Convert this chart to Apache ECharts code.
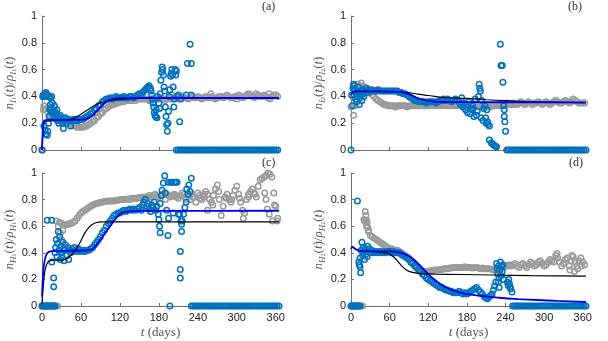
<!DOCTYPE html>
<html>
<head>
<meta charset="utf-8">
<script src="https://cdn.jsdelivr.net/npm/echarts@6/dist/echarts.min.js"></script>
<style>
html, body { margin: 0; background: #fff; }
#chart { width: 608px; height: 341px; }
</style>
</head>
<body>
<div id="chart"></div>
<script>
// sampling days of the grey (observed) series
const days = [
  0,3,6,9,12,15,18,21,24,27,30,33,36,39,42,45,48,51,54,57,
  60,63,66,69,72,75,78,81,84,87,90,93,96,99,102,105,108,111,114,117,
  120,123,126,129,132,135,138,141,144,147,150,153,156,159,162,165,168,171,174,177,
  180,183,186,189,192,195,198,201,204,207,210,213,216,219,222,225,228,231,234,237,
  240,243,246,249,252,255,258,261,264,267,270,273,276,279,282,285,288,291,294,297,
  300,303,306,309,312,315,318,321,324,327,330,333,336,339,342,345,348,351,354,357,
  360,363
]
const xTicks = [0, 60, 120, 180, 240, 300, 360]
const yTicks = [0, 0.2, 0.4, 0.6, 0.8, 1]

// ---- panel (a) ----
const aGray = [
  0,0.33,0.31,0.28,0.26,0.25,0.24,0.23,0.22,0.22,0.21,0.21,0.2,0.21,0.2,0.19,0.19,0.18,0.17,0.17,
  0.17,0.17,0.18,0.18,0.19,0.2,0.21,0.22,0.24,0.25,0.27,0.28,0.3,0.31,0.32,0.33,0.34,0.34,0.35,0.35,
  0.36,0.36,0.36,0.37,0.37,0.37,0.37,0.38,0.37,0.38,0.38,0.38,0.38,0.38,0.38,0.37,0.37,0.38,0.38,0.38,
  0.38,0.39,0.38,0.37,0.38,0.39,0.38,0.38,0.39,0.39,0.38,0.39,0.4,0.39,0.39,0.38,0.39,0.4,0.39,0.39,
  0.4,0.39,0.38,0.39,0.4,0.39,0.39,0.4,0.39,0.38,0.39,0.4,0.4,0.39,0.4,0.41,0.4,0.39,0.39,0.4,
  0.4,0.41,0.4,0.39,0.4,0.41,0.42,0.41,0.4,0.39,0.4,0.41,0.4,0.4,0.41,0.4,0.39,0.38,0.4,0.41,
  0.41,0.4
]
const aGrayExtra = [[1, 0], [2, 0.3], [200, 0.41], [260, 0.42], [300, 0.38], [330, 0.42], [350, 0.42]]
const aBlue = [
  [0,0],[1,0.4],[2,0.41],[3,0.4],[4,0.42],[6,0.43],[7,0.4],[9,0.41],[11,0.4],[13,0.39],[15,0.4],
  [3,0.18],[5,0.15],[6,0.12],[8,0.11],[9,0.14],[10,0.2],[11,0.25],[12,0.3],[13,0.34],[14,0.31],[15,0.28],
  [16,0.35],[17,0.3],[18,0.26],[19,0.33],[20,0.29],[21,0.24],[22,0.27],[23,0.3],[24,0.22],[25,0.25],
  [26,0.2],[27,0.23],[28,0.26],[30,0.22],[31,0.24],[32,0.2],[33,0.16],[35,0.22],[36,0.24],[38,0.2],
  [40,0.23],[42,0.22],[44,0.18],[46,0.22],[48,0.23],[50,0.22],[52,0.23],[54,0.22],[56,0.22],[58,0.23],
  [60,0.23],[63,0.23],[66,0.24],[69,0.25],[72,0.26],[75,0.27],[78,0.28],[81,0.3],[84,0.31],[87,0.33],
  [90,0.34],[93,0.36],[96,0.37],[99,0.38],[102,0.38],[105,0.39],[108,0.38],[111,0.39],[114,0.4],[117,0.39],
  [120,0.39],[123,0.39],[126,0.4],[129,0.39],[132,0.39],[135,0.4],[138,0.4],[141,0.39],[144,0.4],[147,0.41],
  [150,0.42],[153,0.41],[155,0.43],[157,0.44],[159,0.45],[161,0.46],[163,0.47],[165,0.48],[167,0.46],[168,0.44],
  [169,0.41],[170,0.38],[171,0.35],[172,0.32],[173,0.28],[174,0.26],[175,0.25],[176,0.3],[177,0.24],[178,0.4],
  [180,0.35],[181,0.31],[182,0.42],[183,0.52],[184,0.58],[185,0.62],[186,0.6],[187,0.56],[188,0.47],[189,0.44],
  [190,0.32],[191,0.25],[192,0.19],[193,0.14],[194,0.2],[195,0.29],[196,0.4],[197,0.45],[198,0.55],[199,0.57],
  [200,0.6],[201,0.56],[202,0.47],[203,0.32],[204,0.38],[205,0.6],[206,0.56],[207,0.59],[208,0.4],[210,0.41],
  [212,0.21],[214,0.38],[222,0.41],[224,0.645],[228,0.79],[230,0.645],[230,0.41]
]
const aBlueZeroDays = [
  207,210,213,216,219,222,225,228,231,234,237,240,243,246,249,252,255,258,261,264,267,270,273,276,279,
  282,285,288,291,294,297,300,303,306,309,312,315,318,321,324,327,330,333,336,339,342,345,348,351,354,
  357,360,363
]
const aModel = [
  [0,0],[1,0.1],[2,0.17],[3,0.2],[5,0.215],[20,0.22],[40,0.225],[48,0.235],[56,0.255],[64,0.28],
  [72,0.305],[80,0.33],[88,0.348],[96,0.36],[104,0.368],[112,0.374],[120,0.378],[135,0.383],[150,0.386],
  [180,0.388],[365,0.39]
]
const aFit = [
  [0,0],[1,0.12],[2,0.19],[3,0.215],[5,0.222],[20,0.224],[40,0.225],[60,0.226],[66,0.23],[72,0.24],
  [78,0.26],[84,0.29],[90,0.32],[96,0.35],[102,0.37],[108,0.38],[114,0.385],[120,0.387],[140,0.388],[365,0.388]
]

// ---- panel (b) ----
const bGray = [
  0.32,0.4,0.44,0.46,0.47,0.48,0.47,0.47,0.46,0.45,0.43,0.41,0.4,0.38,0.37,0.36,0.35,0.34,0.34,0.33,
  0.33,0.33,0.33,0.32,0.33,0.33,0.33,0.33,0.33,0.32,0.33,0.33,0.33,0.33,0.33,0.33,0.33,0.33,0.33,0.33,
  0.33,0.33,0.34,0.33,0.33,0.33,0.34,0.33,0.33,0.34,0.33,0.33,0.34,0.33,0.33,0.33,0.34,0.33,0.33,0.34,
  0.33,0.33,0.33,0.34,0.33,0.33,0.33,0.32,0.33,0.33,0.33,0.33,0.32,0.33,0.33,0.33,0.34,0.33,0.34,0.34,
  0.34,0.35,0.34,0.34,0.35,0.34,0.34,0.35,0.36,0.35,0.34,0.35,0.36,0.35,0.34,0.35,0.35,0.36,0.35,0.34,
  0.35,0.36,0.35,0.34,0.35,0.36,0.37,0.36,0.35,0.35,0.36,0.37,0.36,0.35,0.36,0.38,0.37,0.36,0.35,0.35,
  0.35,0.35
]
const bGrayExtra = [[4, 0.26], [6, 0.33], [10, 0.49], [16, 0.5]]
const bBlue = [
  [0,0],[1,0.41],[2,0.33],[3,0.46],[4,0.49],[5,0.48],[6,0.45],[7,0.38],[8,0.42],[9,0.36],[10,0.4],
  [11,0.47],[12,0.43],[13,0.34],[14,0.39],[15,0.44],[16,0.41],[17,0.37],[18,0.45],[19,0.42],[20,0.4],
  [22,0.44],[24,0.46],[26,0.43],[28,0.45],[30,0.44],[33,0.45],[36,0.44],[39,0.44],[42,0.45],[45,0.44],
  [48,0.44],[51,0.44],[54,0.44],[57,0.44],[60,0.44],[63,0.44],[66,0.44],[69,0.44],[72,0.44],[75,0.43],
  [78,0.43],[81,0.42],[84,0.42],[87,0.41],[90,0.4],[93,0.39],[96,0.38],[99,0.37],[102,0.37],[105,0.36],
  [108,0.36],[111,0.36],[114,0.36],[117,0.35],[120,0.36],[123,0.36],[126,0.36],[129,0.36],[132,0.35],[135,0.36],
  [138,0.37],[141,0.37],[144,0.38],[147,0.37],[150,0.38],[153,0.37],[156,0.36],[159,0.37],[162,0.38],[165,0.37],
  [168,0.36],[170,0.34],[172,0.39],[174,0.32],[176,0.35],[178,0.3],[180,0.34],[181,0.28],[183,0.36],[185,0.27],
  [186,0.31],[188,0.3],[189,0.33],[190,0.31],[191,0.25],[193,0.38],[195,0.26],[196,0.29],[198,0.4],[199,0.49],
  [200,0.46],[201,0.44],[202,0.24],[203,0.37],[205,0.22],[206,0.31],[208,0.33],[209,0.24],[210,0.2],[211,0.3],
  [212,0.21],[213,0.19],[215,0.18],[215,0.075],[218,0.055],[220,0.045],[222,0.035],[224,0.03],[226,0.025],
  [232,0.79],[233,0.63],[235,0.63],[236,0.505],[237,0.33],[238,0.3],[238,0.25],[239,0.21],[240,0.14]
]
const bBlueZeroDays = [
  242,245,248,251,254,257,260,263,266,269,272,275,278,281,284,287,290,293,296,299,302,305,308,311,
  314,317,320,323,326,329,332,335,338,341,344,347,350,353,356,359,362,365
]
const bModel = [
  [0,0.41],[3,0.43],[8,0.437],[40,0.437],[70,0.435],[85,0.43],[100,0.42],[115,0.41],[130,0.4],
  [150,0.39],[180,0.385],[210,0.375],[240,0.368],[270,0.362],[300,0.358],[330,0.356],[365,0.354]
]
const bFit = [
  [0,0.41],[3,0.43],[8,0.437],[40,0.437],[70,0.436],[80,0.43],[90,0.415],[100,0.395],[110,0.377],
  [120,0.366],[135,0.36],[160,0.358],[200,0.357],[260,0.356],[365,0.353]
]

// ---- panel (c) ----
const cGray = [
  0,0,0,0,0,0,0,0,0,0.63,0.62,0.61,0.61,0.61,0.62,0.62,0.63,0.64,0.66,0.68,
  0.7,0.71,0.72,0.73,0.74,0.75,0.76,0.765,0.77,0.775,0.78,0.78,0.785,0.785,0.79,0.79,0.79,0.79,0.795,0.795,
  0.8,0.8,0.8,0.8,0.805,0.8,0.81,0.81,0.81,0.81,0.815,0.81,0.82,0.82,0.82,0.83,0.82,0.83,0.84,0.83,
  0.82,0.83,0.84,0.85,0.84,0.83,0.82,0.83,0.84,0.82,0.81,0.83,0.85,0.84,0.8,0.84,0.8,0.84,0.82,0.78,
  0.85,0.83,0.8,0.82,0.86,0.84,0.8,0.78,0.83,0.88,0.91,0.8,0.68,0.75,0.82,0.84,0.8,0.78,0.83,0.87,
  0.9,0.84,0.78,0.72,0.7,0.8,0.84,0.86,0.88,0.85,0.82,0.9,0.95,0.96,0.97,0.98,1.0,0.99,0.97,0.85,
  0.75,0.66
]
const cGrayExtra = [
  [22,0.64],[25,0.6],[28,0.55],[30,0.5],[32,0.57],[190,0.8],[205,0.83],[220,0.82],[232,0.82],
  [244,0.81],[250,0.84],[255,0.72],[263,0.76],[272,0.86],[284,0.81],[292,0.8],[304,0.81],[310,0.66],
  [318,0.82],[328,0.84],[343,0.85],[345,0.8],[347,0.73],[350,0.69],[355,0.64],[358,0.76],[362,0.64]
]
const cBlue = [
  [0,0],[2,0],[4,0],[6,0],[8,0],[10,0],[12,0],[14,0],[16,0],[18,0],[20,0],
  [8,0.645],[15,0.645],[15,0.33],[18,0.21],[18,0.145],
  [20,0.4],[21,0.44],[22,0.5],[23,0.37],[24,0.47],[25,0.56],[26,0.42],[27,0.52],[28,0.35],[29,0.45],
  [30,0.4],[31,0.37],[32,0.48],[33,0.43],[34,0.34],[35,0.42],[36,0.46],[38,0.38],[40,0.44],[41,0.35],
  [43,0.42],[44,0.4],[46,0.43],[48,0.41],[50,0.44],[52,0.42],[54,0.41],[56,0.43],[58,0.42],[60,0.41],
  [63,0.42],[66,0.41],[69,0.42],[72,0.42],[75,0.43],[78,0.44],[81,0.46],[84,0.48],[87,0.5],[90,0.52],
  [93,0.55],[96,0.57],[99,0.6],[102,0.62],[105,0.64],[108,0.66],[111,0.68],[114,0.69],[117,0.7],[120,0.7],
  [123,0.71],[126,0.72],[129,0.71],[132,0.72],[135,0.73],[138,0.72],[141,0.73],[144,0.72],[147,0.73],[150,0.74],
  [153,0.72],[155,0.76],[157,0.78],[159,0.8],[161,0.75],[163,0.77],[165,0.73],[167,0.71],[169,0.76],[171,0.74],
  [173,0.78],[175,0.72],[177,0.75],[179,0.69],[180,0.65],[181,0.6],[182,0.55],[182,0.77],[184,0.83],[185,0.87],
  [187,0.925],[189,0.98],[190,0.85],[192,0.72],[194,0.53],[194,0.93],[195,0.66],[197,0],[198,0.93],[200,0.93],
  [202,0.7],[204,0.93],[206,0.93],[208,0.93],[210,0.69],[212,0.69],[213,0.41],[213,0.275],[213,0.21],[214,0.64],
  [215,0.615],[215,0.56],[216,0.64],[218,0.69],[220,0.74],[222,0.78],[223,0.88],[225,0.84],[226,0.91],[228,0.86],
  [230,0.96]
]
const cBlueZeroDays = [
  230,233,236,239,242,245,248,251,254,257,260,263,266,269,272,275,278,281,284,287,290,293,296,299,
  302,305,308,311,314,317,320,323,326,329,332,335,338,341,344,347,350,353,356,359,362,365
]
const cModel = [
  [0,0.02],[2,0.15],[4,0.25],[7,0.31],[10,0.335],[20,0.345],[30,0.345],[36,0.35],[42,0.37],[48,0.4],
  [54,0.44],[60,0.49],[66,0.55],[72,0.59],[78,0.615],[84,0.628],[92,0.632],[110,0.633],[365,0.633]
]
const cFit = [
  [0,0.07],[1,0.18],[2,0.26],[3,0.31],[5,0.36],[7,0.39],[10,0.405],[15,0.412],[30,0.415],[60,0.416],
  [72,0.42],[78,0.43],[84,0.46],[90,0.5],[96,0.54],[102,0.58],[108,0.62],[114,0.66],[120,0.69],[126,0.705],
  [135,0.712],[150,0.715],[365,0.716]
]

// ---- panel (d) ----
const dGray = [
  0,0,0,0,0,0,0,0.64,0.6,0.56,0.53,0.52,0.51,0.5,0.49,0.48,0.47,0.46,0.45,0.44,
  0.43,0.43,0.42,0.42,0.42,0.41,0.4,0.39,0.38,0.37,0.36,0.34,0.32,0.31,0.29,0.28,0.27,0.265,0.26,0.26,
  0.26,0.265,0.265,0.27,0.27,0.27,0.275,0.275,0.28,0.28,0.28,0.285,0.285,0.29,0.29,0.29,0.29,0.29,0.29,0.295,
  0.29,0.29,0.29,0.285,0.29,0.29,0.285,0.28,0.285,0.28,0.28,0.28,0.28,0.275,0.27,0.27,0.265,0.27,0.28,0.29,
  0.3,0.3,0.31,0.3,0.31,0.32,0.3,0.29,0.31,0.32,0.3,0.29,0.31,0.33,0.32,0.3,0.31,0.33,0.34,0.32,
  0.3,0.31,0.33,0.35,0.34,0.33,0.38,0.36,0.33,0.3,0.32,0.35,0.36,0.3,0.34,0.37,0.33,0.3,0.34,0.36,
  0.33,0.31
]
const dGrayExtra = [
  [20,0.65],[22,0.71],[23,0.68],[24,0.645],[25,0.63],[26,0.59],[27,0.57],
  [320,0.395],[340,0.27],[343,0.38],[347,0.26],[352,0.28],[358,0.3]
]
const dBlue = [
  [0,0],[2,0],[4,0],[6,0],[8,0],[10,0],[12,0],[14,0],
  [10,0.79],[12,0.33],[13,0.31],[14,0.295],[15,0.25],[14,0.36],[16,0.42],[17,0.48],[18,0.38],[19,0.44],
  [20,0.4],[21,0.35],[22,0.43],[23,0.39],[24,0.42],[25,0.37],[26,0.45],[27,0.41],[28,0.43],[30,0.4],
  [32,0.42],[34,0.41],[36,0.4],[39,0.41],[42,0.4],[45,0.41],[48,0.4],[51,0.41],[54,0.4],[57,0.41],
  [60,0.41],[63,0.4],[66,0.41],[69,0.4],[72,0.4],[75,0.4],[78,0.39],[81,0.38],[84,0.37],[87,0.36],
  [90,0.35],[93,0.33],[96,0.32],[99,0.3],[102,0.29],[105,0.27],[108,0.26],[111,0.24],[114,0.23],[117,0.21],
  [120,0.2],[123,0.19],[126,0.18],[129,0.17],[132,0.16],[135,0.15],[138,0.14],[141,0.14],[144,0.13],[147,0.12],
  [150,0.12],[153,0.11],[156,0.11],[159,0.1],[162,0.1],[165,0.1],[168,0.11],[171,0.1],[174,0.09],[177,0.1],
  [180,0.09],[183,0.1],[186,0.11],[189,0.12],[192,0.13],[195,0.14],[198,0.12],[201,0.105],[204,0.09],[207,0.07],
  [210,0.06],[212,0.055],[215,0.07],[217,0.08],[219,0.09],[221,0.12],[223,0.15],[225,0.18],[226,0.32],[227,0.28],
  [228,0.24],[229,0.3],[230,0.21],[231,0.27],[232,0.33],[233,0.23],[234,0.3],[235,0.26],[236,0.31],[237,0.2],
  [229,0.18],[230,0.14],[243,0.18],[244,0.155],[246,0.17],[248,0.13],[250,0.105],[247,0.145],[245,0.2]
]
const dBlueZeroDays = [
  251,254,257,260,263,266,269,272,275,278,281,284,287,290,293,296,299,302,305,308,311,314,317,320,
  323,326,329,332,335,338,341,344,347,350,353,356,359,362,365
]
const dModel = [
  [0,0.43],[2,0.445],[6,0.43],[14,0.415],[30,0.41],[45,0.405],[55,0.398],[60,0.39],[66,0.37],[72,0.34],
  [78,0.305],[84,0.278],[90,0.26],[100,0.249],[110,0.244],[130,0.24],[170,0.237],[220,0.233],[280,0.228],[365,0.224]
]
const dFit = [
  [0,0.43],[2,0.445],[4,0.44],[8,0.425],[14,0.415],[30,0.412],[60,0.41],[72,0.405],[80,0.395],[88,0.38],
  [96,0.355],[104,0.32],[112,0.28],[120,0.24],[128,0.205],[136,0.175],[144,0.15],[152,0.13],[160,0.115],
  [170,0.1],[180,0.09],[195,0.08],[210,0.072],[230,0.062],[260,0.052],[290,0.045],[320,0.038],[365,0.03]
]

const GRAY = '#9a9a9a'
const BLUE = '#0072bd'
const FIT = '#0000f0'
const AXIS = '#6f6f6f'
const SERIF = 'Liberation Serif'

const panels = [
  { tag: '(a)', sub: ['I', '1'], gray: aGray, grayExtra: aGrayExtra, blue: aBlue, zeros: aBlueZeroDays, model: aModel, fit: aFit,
    grid: { left: 42, top: 16, width: 237, height: 134 }, labels: false, tagPos: [262, 1] },
  { tag: '(b)', sub: ['I', '2'], gray: bGray, grayExtra: bGrayExtra, blue: bBlue, zeros: bBlueZeroDays, model: bModel, fit: bFit,
    grid: { left: 351, top: 16, width: 235, height: 134 }, labels: false, tagPos: [568, 1] },
  { tag: '(c)', sub: ['H', '1'], gray: cGray, grayExtra: cGrayExtra, blue: cBlue, zeros: cBlueZeroDays, model: cModel, fit: cFit,
    grid: { left: 42, top: 173, width: 237, height: 133 }, labels: true, tagPos: [262, 157] },
  { tag: '(d)', sub: ['H', '2'], gray: dGray, grayExtra: dGrayExtra, blue: dBlue, zeros: dBlueZeroDays, model: dModel, fit: dFit,
    grid: { left: 351, top: 173, width: 235, height: 133 }, labels: true, tagPos: [569, 157] },
]

const chart = echarts.init(document.getElementById('chart'), null, { renderer: 'canvas' })

const circle = (color) => ({
  type: 'scatter',
  symbol: 'circle',
  symbolSize: 5.5,
  silent: true,
  itemStyle: { color: 'rgba(0,0,0,0)', borderColor: color, borderWidth: 1.5, opacity: 1 },
})

const nameRich = {
  n: { fontFamily: SERIF, fontStyle: 'italic', fontSize: 13, lineHeight: 17, verticalAlign: 'middle', color: '#555' },
  u: { fontFamily: SERIF, fontSize: 13, lineHeight: 17, verticalAlign: 'middle', color: '#555' },
  s: { fontFamily: SERIF, fontStyle: 'italic', fontSize: 9, lineHeight: 10, verticalAlign: 'bottom', color: '#555' },
  ss: { fontFamily: SERIF, fontSize: 6, lineHeight: 6, verticalAlign: 'bottom', color: '#555' },
}

const option = {
  animation: false,
  grid: panels.map(p => p.grid),
  xAxis: panels.map((p, i) => ({
    type: 'value',
    gridIndex: i,
    min: 0,
    max: 365,
    axisLine: { lineStyle: { color: AXIS, width: 1 } },
    axisTick: { show: true, inside: true, length: 3, customValues: xTicks, lineStyle: { color: AXIS } },
    axisLabel: { show: p.labels, customValues: xTicks, fontFamily: 'Liberation Sans', fontSize: 11, color: '#222', margin: 6 },
    splitLine: { show: false },
    name: p.labels ? '{i|t} {u|(days)}' : '',
    nameLocation: 'middle',
    nameGap: 20,
    nameTextStyle: {
      rich: {
        i: { fontFamily: SERIF, fontStyle: 'italic', fontSize: 13, color: '#555' },
        u: { fontFamily: SERIF, fontSize: 13, color: '#555' },
      },
    },
  })),
  yAxis: panels.map((p, i) => ({
    type: 'value',
    gridIndex: i,
    min: 0,
    max: 1,
    axisLine: { show: true, lineStyle: { color: AXIS, width: 1 } },
    axisTick: { show: true, inside: true, length: 3, customValues: yTicks, lineStyle: { color: AXIS } },
    axisLabel: { customValues: yTicks, fontFamily: 'Liberation Sans', fontSize: 11, color: '#222', margin: 5 },
    splitLine: { show: false },
    name: `{n|n}{s|${p.sub[0]}}{ss|${p.sub[1]}}{u|(}{n|t}{u|)/}{n|ρ}{s|${p.sub[0]}}{ss|${p.sub[1]}}{u|(}{n|t}{u|)}`,
    nameLocation: 'middle',
    nameRotate: 90,
    nameGap: 17,
    nameTextStyle: { rich: nameRich },
  })),
  graphic: panels.map(p => ({
    type: 'text',
    left: p.tagPos[0],
    top: p.tagPos[1],
    style: { text: p.tag, font: `12px "${SERIF}"`, fill: '#333' },
  })),
  series: panels.flatMap((p, i) => [
    Object.assign(circle(GRAY), {
      xAxisIndex: i, yAxisIndex: i,
      data: days.map((d, k) => [d, p.gray[k]]).concat(p.grayExtra),
    }),
    Object.assign(circle(BLUE), {
      xAxisIndex: i, yAxisIndex: i,
      data: p.blue.concat(p.zeros.map(d => [d, 0])),
    }),
    {
      type: 'line', xAxisIndex: i, yAxisIndex: i, silent: true,
      showSymbol: false, smooth: 0.3, data: p.model,
      lineStyle: { color: '#000', width: 1.2 },
    },
    {
      type: 'line', xAxisIndex: i, yAxisIndex: i, silent: true,
      showSymbol: false, smooth: 0.3, data: p.fit,
      lineStyle: { color: FIT, width: 1.8 },
    },
  ]),
}

chart.setOption(option)
</script>
</body>
</html>
